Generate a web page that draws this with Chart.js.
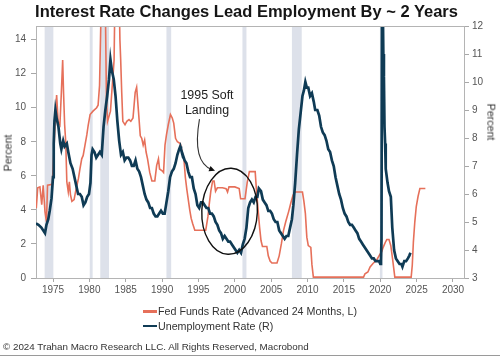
<!DOCTYPE html>
<html><head><meta charset="utf-8">
<script src="https://cdn.jsdelivr.net/npm/chart.js@4.4.1/dist/chart.umd.min.js"></script>
<style>
html,body{margin:0;padding:0;background:#fff;}
#wrap{position:relative;width:500px;height:357px;overflow:hidden;font-family:"Liberation Sans",Arial,sans-serif;background:#fff;}
canvas{position:absolute;left:0;top:0;}
.t{position:absolute;white-space:nowrap;line-height:1em;}
#title{left:0;top:2.5px;width:493px;text-align:center;font-weight:bold;font-size:16.5px;color:#151515;}
.leg{left:143px;font-size:10.7px;color:#333;}
.sw{display:inline-block;width:14px;height:2.6px;margin-right:1px;vertical-align:2.5px;}
#foot{left:3px;top:341.7px;font-size:9.8px;color:#333;}
#bline{position:absolute;left:0;top:355px;width:500px;height:1px;background:#9a9a9a;}
.rot{position:absolute;white-space:nowrap;font-size:10.7px;color:#333;line-height:1em;}
.note{position:absolute;white-space:nowrap;font-size:12.4px;color:#222;line-height:15px;text-align:center;transform:translate(-50%,-50%);}
</style></head>
<body><div id="wrap"><canvas id="c" width="500" height="357"></canvas>
<div id="title" class="t">Interest Rate Changes Lead Employment By ~ 2 Years</div>
<div class="t leg" style="top:306.4px"><span class="sw" style="background:#e6705a"></span>Fed Funds Rate (Advanced 24 Months, L)</div>
<div class="t leg" style="top:320.9px"><span class="sw" style="background:#0f3b55"></span>Unemployment Rate (R)</div>
<div id="foot" class="t">© 2024 Trahan Macro Research LLC. All Rights Reserved, Macrobond</div>
<div id="bline"></div>
<div class="rot" style="left:8px;top:153px;transform:translate(-50%,-50%) rotate(-90deg);">Percent</div>
<div class="rot" style="left:491px;top:122px;transform:translate(-50%,-50%) rotate(90deg);">Percent</div>
<div id="note" class="note">1995 Soft<br>Landing</div>
</div>
<script>
// ---- data ----
const xTicks = [1975,1980,1985,1990,1995,2000,2005,2010,2015,2020,2025,2030];
const leftTicks = [0,2,4,6,8,10,12,14];
const rightTicks = [3,4,5,6,7,8,9,10,11,12];
const recessions = [[1973.85,1975.05],[1980.05,1980.45],[1981.5,1982.7],[1990.6,1991.25],[2001.05,2001.6],[2007.85,2009.2],[2019.95,2020.3]];

// Unemployment rate (right axis): [year, percent]
const unemployment = [
[1972.66,4.95],[1973.0,4.9],[1973.4,4.8],[1973.9,4.6],[1974.1,4.9],[1974.35,5.1],[1974.55,5.4],[1974.8,5.85],[1975.0,6.6],[1975.1,7.8],[1975.2,8.6],[1975.33,9.0],[1975.5,8.7],[1975.75,8.4],[1976.0,7.8],[1976.15,7.6],[1976.4,7.9],[1976.6,7.7],[1976.9,7.8],[1977.1,7.5],[1977.4,7.1],[1977.7,6.9],[1977.95,6.6],[1978.2,6.3],[1978.45,6.0],[1978.7,6.0],[1978.95,5.9],[1979.2,5.6],[1979.45,5.7],[1979.7,5.9],[1979.95,6.0],[1980.15,6.4],[1980.3,7.4],[1980.45,7.6],[1980.7,7.5],[1980.95,7.3],[1981.2,7.4],[1981.45,7.5],[1981.7,7.4],[1981.95,8.4],[1982.2,9.0],[1982.45,9.5],[1982.7,10.1],[1982.9,10.8],[1983.1,10.4],[1983.35,10.1],[1983.6,9.5],[1983.85,8.6],[1984.1,7.9],[1984.35,7.4],[1984.6,7.5],[1984.85,7.2],[1985.1,7.3],[1985.35,7.3],[1985.6,7.2],[1985.85,7.0],[1986.1,7.0],[1986.35,7.2],[1986.6,6.9],[1986.85,6.8],[1987.1,6.6],[1987.35,6.3],[1987.6,6.0],[1987.85,5.8],[1988.1,5.7],[1988.35,5.5],[1988.6,5.5],[1988.85,5.3],[1989.1,5.2],[1989.35,5.2],[1989.6,5.3],[1989.85,5.4],[1990.1,5.3],[1990.35,5.3],[1990.6,5.7],[1990.85,6.1],[1991.1,6.6],[1991.35,6.8],[1991.6,6.9],[1991.85,7.1],[1992.1,7.4],[1992.35,7.6],[1992.5,7.7],[1992.6,7.6],[1992.85,7.4],[1993.1,7.2],[1993.35,7.1],[1993.6,6.8],[1993.85,6.6],[1994.1,6.6],[1994.35,6.2],[1994.6,6.0],[1994.85,5.6],[1995.1,5.5],[1995.35,5.7],[1995.6,5.7],[1995.85,5.6],[1996.1,5.5],[1996.35,5.5],[1996.6,5.3],[1996.85,5.3],[1997.1,5.2],[1997.35,5.0],[1997.6,4.9],[1997.85,4.7],[1998.1,4.6],[1998.35,4.4],[1998.6,4.5],[1998.85,4.4],[1999.1,4.3],[1999.35,4.3],[1999.6,4.2],[1999.85,4.1],[2000.1,4.0],[2000.35,3.9],[2000.6,4.0],[2000.85,3.9],[2001.1,4.2],[2001.35,4.4],[2001.6,4.8],[2001.85,5.5],[2002.1,5.7],[2002.35,5.8],[2002.6,5.7],[2002.85,5.9],[2003.1,5.9],[2003.3,6.2],[2003.6,6.1],[2003.85,5.8],[2004.1,5.7],[2004.35,5.6],[2004.6,5.4],[2004.85,5.4],[2005.1,5.3],[2005.35,5.1],[2005.6,5.0],[2005.85,5.0],[2006.1,4.7],[2006.35,4.6],[2006.6,4.5],[2006.85,4.4],[2007.1,4.5],[2007.35,4.5],[2007.6,4.8],[2007.85,5.1],[2008.05,5.6],[2008.3,6.4],[2008.55,7.4],[2008.8,8.3],[2009.05,8.9],[2009.3,9.5],[2009.5,9.7],[2009.7,10.0],[2009.9,9.8],[2010.1,9.8],[2010.35,9.5],[2010.6,9.6],[2010.85,9.3],[2011.05,9.0],[2011.35,9.0],[2011.6,8.8],[2011.85,8.4],[2012.1,8.2],[2012.35,8.1],[2012.6,7.9],[2012.85,7.6],[2013.1,7.5],[2013.35,7.2],[2013.6,7.0],[2013.85,6.6],[2014.1,6.3],[2014.35,6.0],[2014.6,5.8],[2014.85,5.5],[2015.1,5.3],[2015.35,5.2],[2015.6,5.0],[2015.85,4.9],[2016.1,4.9],[2016.35,4.8],[2016.6,4.7],[2016.85,4.6],[2017.1,4.4],[2017.35,4.3],[2017.6,4.2],[2017.85,4.1],[2018.1,4.0],[2018.35,3.9],[2018.6,3.8],[2018.85,3.7],[2019.1,3.7],[2019.35,3.6],[2019.6,3.6],[2019.85,3.6],[2020.0,3.5],[2020.1,3.6],[2020.17,4.4],[2020.25,14.8],[2020.33,13.2],[2020.42,11.0],[2020.5,10.2],[2020.58,8.4],[2020.67,7.8],[2020.75,6.9],[2020.85,6.7],[2021.0,6.4],[2021.2,6.1],[2021.45,5.9],[2021.65,4.8],[2021.9,4.0],[2022.15,3.7],[2022.4,3.6],[2022.65,3.5],[2022.9,3.5],[2023.05,3.4],[2023.3,3.6],[2023.55,3.6],[2023.8,3.7],[2024.0,3.8],[2024.15,3.9]
];

// Fed funds rate advanced 24 months (left axis): [year, percent]
const fedFunds = [
[1972.7,4.1],[1972.9,5.3],[1973.2,5.35],[1973.45,4.3],[1973.65,5.45],[1973.9,3.9],[1974.1,3.3],[1974.25,5.45],[1974.9,5.5],[1975.05,6.8],[1975.3,9.2],[1975.5,10.75],[1975.7,9.2],[1975.95,9.0],[1976.15,10.9],[1976.33,12.8],[1976.45,10.9],[1976.6,9.0],[1976.75,8.0],[1976.9,5.65],[1977.1,5.06],[1977.25,5.65],[1977.4,4.9],[1977.6,4.5],[1977.9,4.6],[1978.1,5.06],[1978.3,5.45],[1978.5,5.85],[1978.7,6.4],[1978.95,7.0],[1979.15,7.2],[1979.4,7.8],[1979.65,8.4],[1979.85,9.0],[1980.1,9.6],[1980.5,9.8],[1981.0,10.0],[1981.2,10.15],[1981.4,11.3],[1981.7,17.6],[1982.15,17.6],[1982.35,10.5],[1982.5,9.2],[1982.9,9.8],[1983.4,12.8],[1983.6,19.1],[1984.0,19.0],[1984.2,14.0],[1984.3,12.9],[1984.45,10.9],[1984.6,9.2],[1984.9,9.0],[1985.15,9.2],[1985.45,9.3],[1985.7,9.2],[1986.0,9.4],[1986.3,10.9],[1986.5,11.2],[1986.75,9.8],[1987.0,8.35],[1987.2,8.2],[1987.4,7.8],[1987.6,8.1],[1987.8,7.4],[1988.0,7.0],[1988.3,6.2],[1988.6,5.7],[1989.0,5.7],[1989.25,6.6],[1989.5,7.0],[1989.65,6.4],[1990.0,6.3],[1990.2,6.2],[1990.4,7.8],[1990.6,8.4],[1990.85,9.0],[1991.15,9.6],[1991.4,9.4],[1991.6,9.1],[1991.85,8.2],[1992.1,8.0],[1992.5,7.9],[1992.75,7.4],[1993.0,7.0],[1993.2,5.9],[1993.4,5.2],[1993.6,4.6],[1993.8,4.0],[1994.0,3.5],[1994.2,3.2],[1994.5,2.8],[1996.0,2.8],[1996.3,3.6],[1996.5,4.4],[1996.7,5.1],[1996.95,5.7],[1997.15,5.7],[1997.35,5.1],[1997.6,5.3],[1998.3,5.3],[1998.8,5.25],[1999.0,5.05],[1999.2,5.35],[2000.0,5.35],[2000.6,5.25],[2000.8,4.65],[2001.4,4.65],[2001.7,5.6],[2002.0,6.25],[2002.8,6.25],[2003.0,5.0],[2003.2,4.0],[2003.4,3.0],[2003.6,2.2],[2003.8,1.85],[2004.4,1.85],[2004.6,1.3],[2004.85,1.0],[2005.1,0.88],[2005.8,0.88],[2006.1,1.3],[2006.4,2.0],[2006.7,2.8],[2007.0,3.3],[2007.4,3.9],[2007.7,4.4],[2008.0,4.85],[2008.25,5.05],[2009.3,5.05],[2009.5,4.5],[2009.7,3.8],[2009.9,2.4],[2010.1,1.9],[2010.45,1.8],[2010.6,0.8],[2010.8,0.05],[2017.7,0.05],[2017.9,0.25],[2018.3,0.35],[2018.6,0.65],[2019.0,0.85],[2019.5,1.05],[2019.9,1.35],[2020.2,1.55],[2020.4,1.8],[2020.7,2.1],[2020.9,2.26],[2021.2,2.26],[2021.45,1.9],[2021.7,1.1],[2022.0,0.05],[2024.25,0.05],[2024.4,0.75],[2024.55,2.1],[2024.75,3.3],[2024.95,4.2],[2025.2,4.8],[2025.45,5.26],[2026.2,5.26]
];

// annotation anchors in data units (x = year, y = left axis percent)
const noteCenter = [1996.175, 10.25];
const ellipse = {x:1999.28, y:3.92, rx:3.82, ry:2.53};
const arrowPath = [[1995.14,9.335],[1994.39,7.51],[1995.21,6.63],[1997.275,6.306]];

const X_MIN = 1972.6625, X_MAX = 2031.5125;
const RED = '#e6705a', TEAL = '#0f3b55';
const FONT = {family:'"Liberation Sans", Arial, sans-serif', size:10};

const bgPlugin = {
  id:'bg',
  beforeDatasetsDraw(chart){
    const {ctx, chartArea:a, scales:{x}} = chart;
    ctx.save();
    ctx.fillStyle = '#dde1ea';
    recessions.forEach(([s,e])=>{
      const x0 = x.getPixelForValue(s), x1 = x.getPixelForValue(e);
      ctx.fillRect(x0, a.top, x1-x0, a.bottom-a.top);
    });
    ctx.restore();
  },
  afterDraw(chart){
    const {ctx, chartArea:a, scales:{x, yL}} = chart;
    ctx.save();
    ctx.strokeStyle = '#b4b4b4'; ctx.lineWidth = 1;
    ctx.beginPath(); ctx.moveTo(a.left, a.top+0.5); ctx.lineTo(a.right, a.top+0.5); ctx.stroke();
    // ellipse
    const cx = x.getPixelForValue(ellipse.x), cy = yL.getPixelForValue(ellipse.y);
    const rx = x.getPixelForValue(ellipse.x+ellipse.rx)-cx;
    const ry = cy - yL.getPixelForValue(ellipse.y+ellipse.ry);
    ctx.strokeStyle = '#111'; ctx.lineWidth = 1.4;
    ctx.beginPath(); ctx.ellipse(cx, cy, rx, ry, 0.04, 0, Math.PI*2); ctx.stroke();
    // arrow
    const p = arrowPath.map(([u,v])=>[x.getPixelForValue(u), yL.getPixelForValue(v)]);
    ctx.strokeStyle = '#333'; ctx.lineWidth = 1.1;
    ctx.beginPath(); ctx.moveTo(p[0][0],p[0][1]);
    ctx.bezierCurveTo(p[1][0],p[1][1],p[2][0],p[2][1],p[3][0]-3,p[3][1]-1); ctx.stroke();
    const ang = Math.atan2(p[3][1]-p[2][1], p[3][0]-p[2][0]);
    ctx.fillStyle = '#111';
    ctx.beginPath();
    ctx.moveTo(p[3][0], p[3][1]);
    ctx.lineTo(p[3][0]-6.5*Math.cos(ang-0.45), p[3][1]-6.5*Math.sin(ang-0.45));
    ctx.lineTo(p[3][0]-6.5*Math.cos(ang+0.45), p[3][1]-6.5*Math.sin(ang+0.45));
    ctx.closePath(); ctx.fill();
    ctx.restore();
  }
};

const axisCommon = {
  grid:{drawOnChartArea:false, color:'#a8a8a8', tickLength:5},
  border:{color:'#b4b4b4'},
  ticks:{font:FONT, color:'#555'}
};

const chart = new Chart(document.getElementById('c'), {
  type:'line',
  data:{datasets:[
    {label:'Unemployment Rate (R)', data:unemployment.map(([x,y])=>({x,y})), yAxisID:'yR',
     borderColor:TEAL, borderWidth:2.7, pointRadius:0, tension:0, order:1},
    {label:'Fed Funds Rate (Advanced 24 Months, L)', data:fedFunds.map(([x,y])=>({x,y})), yAxisID:'yL',
     borderColor:RED, borderWidth:1.6, pointRadius:0, tension:0, order:2}
  ]},
  options:{
    responsive:false, animation:false, devicePixelRatio:1,
    layout:{padding:{top:26, bottom:59, left:0, right:0}},
    plugins:{legend:{display:false}, tooltip:{enabled:false}},
    scales:{
      x:{type:'linear', min:X_MIN, max:X_MAX,
         afterBuildTicks:s=>{s.ticks = xTicks.map(v=>({value:v}));},
         afterFit:s=>{s.height = 20;},
         grid:{drawOnChartArea:false, color:'#a8a8a8', tickLength:4},
         border:{color:'#b4b4b4'},
         ticks:{font:FONT, color:'#555', padding:2, maxRotation:0, autoSkip:false, callback:v=>String(v)}},
      yL:{type:'linear', position:'left', min:0, max:14.8,
         afterBuildTicks:s=>{s.ticks = leftTicks.map(v=>({value:v}));},
         afterFit:s=>{s.width = 36;},
         grid:axisCommon.grid, border:axisCommon.border,
         ticks:{font:FONT, color:'#555', padding:5, callback:v=>String(v)}},
      yR:{type:'linear', position:'right', min:3, max:12,
         afterBuildTicks:s=>{s.ticks = rightTicks.map(v=>({value:v}));},
         afterFit:s=>{s.width = 36;},
         grid:axisCommon.grid, border:axisCommon.border,
         ticks:{font:FONT, color:'#555', padding:3, callback:v=>String(v)}}
    }
  },
  plugins:[bgPlugin]
});

const n = document.getElementById('note');
n.style.left = chart.scales.x.getPixelForValue(noteCenter[0]) + 'px';
n.style.top = chart.scales.yL.getPixelForValue(noteCenter[1]) + 'px';
</script>
</body></html>
